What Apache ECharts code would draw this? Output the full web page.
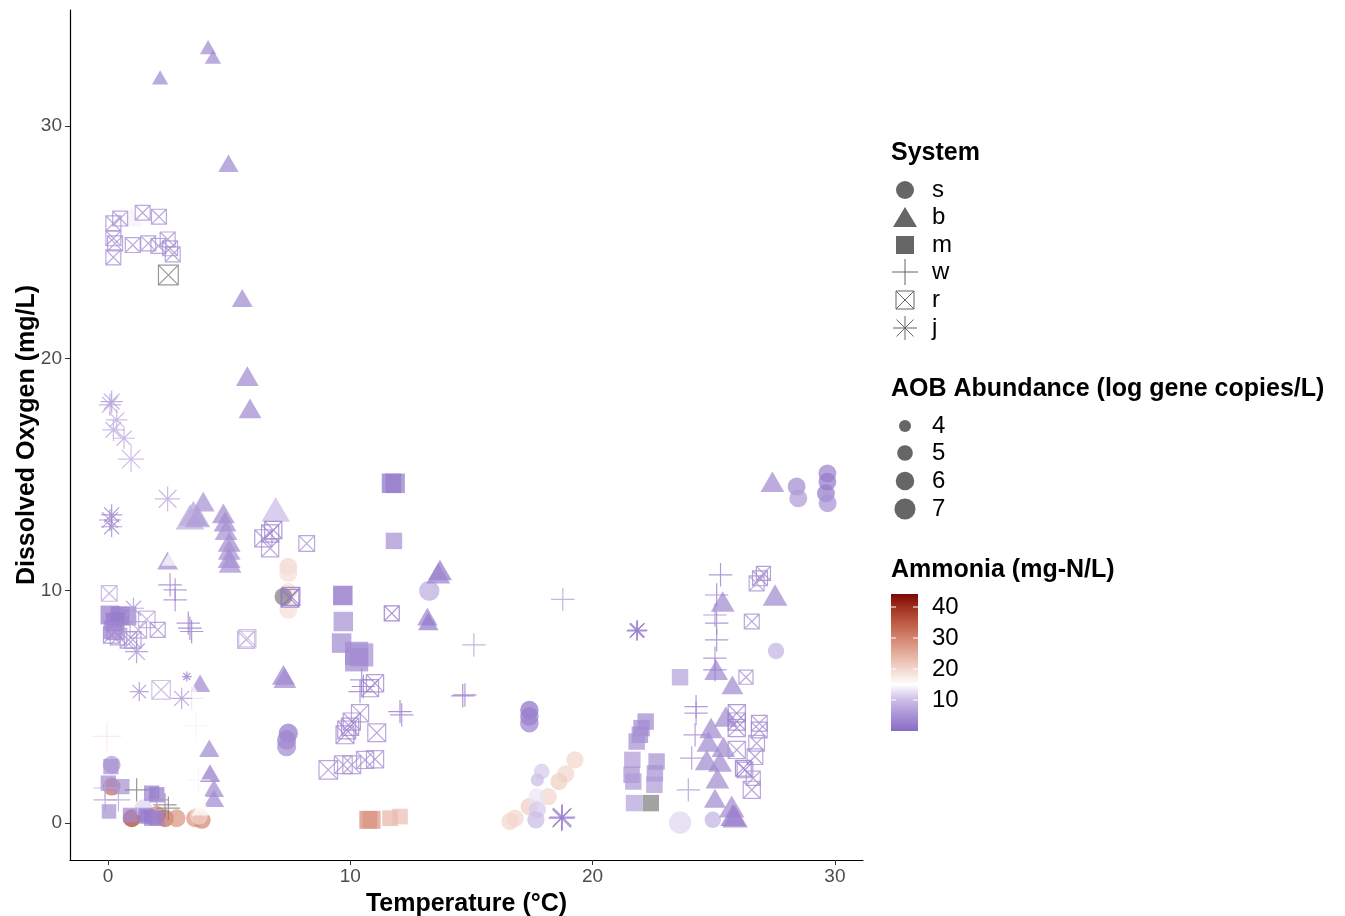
<!DOCTYPE html>
<html>
<head>
<meta charset="utf-8">
<script src="https://cdn.jsdelivr.net/npm/echarts@6/dist/echarts.min.js"></script>
<style>
  html, body { margin: 0; padding: 0; background: #fff; }
  #chart { width: 1345px; height: 916px; }
</style>
</head>
<body>
<div id="chart"></div>
<script>
// each point: [temperature °C, dissolved oxygen mg/L, AOB log gene copies/L, ammonia mg-N/L (null = NA)]
const systemS = [
  [0.15, 2.5, 5.2, 6], [0.15, 1.56, 5.2, 33], [0.98, 0.2, 5.2, 38], [1.46, 0.63, 5.2, 12],
  [2.01, 0.34, 5.2, 30], [2.35, 0.2, 5.2, 33], [2.83, 0.2, 5.2, 28], [3.59, 0.2, 5.2, 28],
  [3.87, 0.13, 5.2, 30], [3.75, 0.3, 5.2, 20],
  [7.44, 11.03, 5.2, 20], [7.44, 10.75, 5.2, 19], [7.44, 9.94, 5.2, 19], [7.44, 9.17, 5.2, 19],
  [7.24, 9.74, 5.2, null], [7.44, 3.86, 5.6, 2], [7.37, 3.57, 5.6, 3], [7.37, 3.28, 5.6, 4],
  [13.26, 9.99, 6, 8], [17.39, 4.86, 5.4, 1], [17.39, 4.58, 5.4, 2], [17.39, 4.29, 5.4, 3],
  [19.27, 2.71, 5, 20], [18.89, 2.11, 5, 20], [18.61, 1.78, 5, 21], [18.17, 1.13, 5, 20],
  [17.38, 0.7, 5, 21], [16.8, 0.2, 5, 20], [16.59, 0.06, 5, 20],
  [17.9, 2.21, 4.6, 11], [17.72, 1.85, 4, 10], [17.69, 1.13, 4.8, 13], [17.72, 0.56, 5, 11],
  [17.66, 0.13, 5, 10],
  [28.42, 14.48, 5.2, 4], [28.49, 13.97, 5.2, 6], [29.69, 15.05, 5.2, 3], [29.69, 14.69, 5.2, 2],
  [29.63, 14.19, 5.2, 2], [29.7, 13.76, 5.2, 5], [27.57, 7.4, 4.8, 9],
  [23.61, 0.01, 6.7, 12], [24.96, 0.13, 4.8, 9]
];
const systemB = [
  [4.13, 33.4, 3.8, 4], [4.33, 32.99, 3.8, 4], [2.15, 32.1, 3.8, 4], [4.97, 28.4, 4.5, 4],
  [5.54, 22.6, 4.6, 4], [5.75, 19.24, 5, 4], [5.86, 17.85, 5, 4], [0.98, 26.1, 5, 14],
  [3.93, 13.83, 5, 5], [3.52, 13.33, 6.4, 7], [3.38, 13.17, 6.4, 8], [3.7, 13.2, 5.5, 6],
  [4.76, 13.33, 5, 4], [4.83, 12.97, 5, 4], [4.87, 12.6, 5, 5], [5.0, 12.1, 5, 4],
  [5.0, 11.75, 5, 5], [5.0, 11.4, 5, 4], [5.04, 11.19, 5, 5], [6.92, 13.5, 6.4, 10],
  [2.46, 11.3, 4.6, 4], [2.63, 11.46, 4.6, 15], [3.8, 6.01, 4.5, 4], [3.31, 5.94, 4.5, 15],
  [3.31, 3.72, 5, 15], [4.18, 3.21, 4.5, 4], [4.21, 2.14, 4.5, 2], [4.37, 1.49, 4.5, 4],
  [4.37, 1.06, 4.5, 4], [3.66, 1.42, 4.5, 15], [3.87, 0.7, 4.5, 15],
  [7.24, 6.37, 5, 3], [7.3, 6.23, 5, 4], [13.7, 10.89, 5.2, 2], [13.63, 10.75, 5.2, 3],
  [13.18, 8.88, 4.5, 3], [13.22, 8.67, 4.5, 2],
  [27.42, 14.69, 5.2, 4], [27.53, 9.81, 5.4, 4], [25.37, 9.53, 5.2, 4], [25.1, 6.59, 5.2, 4],
  [25.77, 5.94, 4.8, 4], [25.5, 4.58, 5.2, 4], [24.89, 4.08, 5.2, 4], [24.78, 3.5, 5.2, 4],
  [25.4, 3.28, 5.2, 4], [24.71, 2.71, 5.2, 4], [25.26, 2.64, 5.2, 4], [25.15, 1.92, 5.2, 4],
  [25.05, 1.06, 4.8, 4], [25.74, 0.7, 5.6, 4], [25.8, 0.34, 5.6, 2], [25.88, 0.27, 5.6, 3]
];
const systemM = [
  [0.08, 8.95, 5.5, 2], [0.5, 8.91, 5.5, 2], [0.78, 8.91, 5.5, 3], [0.29, 8.65, 5.5, 2],
  [0.21, 8.31, 5.5, 3], [0.12, 2.42, 4.5, 5], [0.01, 1.71, 4.5, 4], [0.57, 1.56, 4.5, 5],
  [0.04, 0.49, 4.3, 5], [0.91, 0.34, 4.3, 4], [1.53, 0.34, 4.3, 3], [1.6, 0.27, 4.3, 2],
  [1.8, 1.28, 4.5, 3], [2.01, 1.21, 4.5, 2], [1.8, 0.2, 4.5, 2], [2.01, 0.2, 4.5, 3],
  [11.7, 14.62, 5.7, 1], [11.85, 14.62, 5.7, 2], [11.8, 12.14, 4.8, 5], [9.69, 9.79, 5.7, 0],
  [9.71, 8.67, 5.7, 5], [9.64, 7.74, 5.7, 4], [10.26, 7.3, 7, 4], [10.47, 7.23, 7, 5],
  [10.26, 7.02, 7, 4],
  [10.74, 0.13, 5.2, 29], [10.88, 0.13, 5.2, 28], [11.64, 0.2, 4.6, 24], [12.05, 0.27, 4.6, 23],
  [23.61, 6.27, 4.8, 7], [22.19, 4.36, 4.8, 4], [22.02, 4.08, 4.8, 4], [21.95, 3.79, 4.8, 4],
  [21.82, 3.5, 4.8, 5], [21.64, 2.71, 4.8, 6], [21.61, 2.07, 4.8, 5], [21.68, 1.78, 4.8, 6],
  [22.64, 2.64, 4.8, 5], [22.57, 2.13, 4.8, 5], [22.55, 1.64, 4.8, 6], [21.71, 0.85, 4.8, 7],
  [22.4, 0.85, 4.8, null]
];
const systemW = [
  [2.56, 10.25, 4.8, 3], [2.77, 10.03, 4.8, 4], [2.77, 9.6, 4.8, 4], [3.31, 8.6, 4.8, 3],
  [3.38, 8.38, 4.8, 2], [3.45, 8.24, 4.8, 3], [3.63, 4.19, 5.2, 14], [-0.05, 3.72, 5.9, 18],
  [3.45, 5.36, 4.8, 13], [1.18, 1.42, 4.8, null], [2.35, 0.77, 4.8, null], [2.49, 0.63, 4.8, null],
  [-0.12, 0.99, 4.8, 6], [0.43, 0.99, 4.8, 7], [2.01, 0.99, 4.8, 5], [-0.12, 1.5, 4.8, 8],
  [3.73, 1.85, 4.8, 14],
  [10.54, 5.87, 4.8, 2], [10.4, 5.65, 4.8, 3], [10.47, 6.16, 4.8, 3], [12.05, 4.79, 4.8, 2],
  [12.12, 4.65, 4.8, 3], [14.64, 5.47, 4.8, 2], [14.73, 5.51, 4.8, 3], [15.1, 7.66, 4.8, 7],
  [18.77, 9.62, 4.8, 7],
  [25.28, 10.68, 4.8, 3], [25.12, 9.81, 4.8, 3], [25.05, 8.95, 4.8, 4], [25.12, 8.6, 4.8, 3],
  [25.12, 7.88, 4.8, 3], [25.05, 7.09, 4.8, 4], [25.05, 6.59, 4.8, 3], [24.27, 5.0, 4.8, 3],
  [24.27, 4.72, 4.8, 4], [24.23, 3.79, 4.8, 4], [24.09, 2.79, 4.8, 5], [23.95, 1.42, 4.8, 6]
];
const systemR = [
  [0.22, 25.81, 4.4, 5], [0.5, 26.02, 4.4, 5], [1.43, 26.27, 4.4, 5], [2.1, 26.1, 4.4, 5],
  [0.22, 25.17, 4.4, 5], [0.29, 24.95, 4.4, 5], [1.02, 24.88, 4.4, 5], [1.66, 24.95, 4.4, 5],
  [2.08, 24.84, 4.4, 5], [2.46, 25.12, 4.4, 5], [2.56, 24.74, 4.4, 5], [2.67, 24.48, 4.4, 5],
  [0.22, 24.35, 4.4, 5], [2.49, 23.59, 5.8, null],
  [0.05, 9.88, 4.6, 8], [0.29, 8.24, 4.8, 4], [0.15, 8.09, 4.8, 4], [0.43, 8.02, 4.8, 5],
  [0.84, 7.88, 4.8, 5], [1.25, 8.31, 4.8, 6], [1.6, 8.76, 4.8, 7], [2.05, 8.31, 4.4, 5],
  [1.02, 7.88, 4.8, 5], [5.7, 7.88, 5, 8], [5.75, 7.95, 5, 9], [2.19, 5.73, 5.4, 9],
  [7.51, 9.67, 5.2, 1], [7.55, 9.75, 5.2, 2], [6.69, 12.46, 5, 3], [6.41, 12.25, 5, 4],
  [6.82, 12.61, 5, 3], [6.69, 11.82, 5, 5], [8.2, 12.03, 4.6, 5], [11.71, 9.02, 4.4, 1],
  [11.02, 6.01, 5, 4], [10.81, 5.8, 5, 4], [10.4, 4.72, 5, 5], [10.06, 4.36, 5, 4],
  [9.85, 4.0, 5.2, 4], [9.78, 3.79, 5.2, 4], [9.99, 4.14, 5, 4], [11.09, 3.88, 5.2, 5],
  [9.09, 2.28, 5.4, 5], [9.71, 2.5, 5.2, 5], [10.06, 2.5, 5.2, 5], [10.61, 2.71, 5, 5],
  [11.02, 2.74, 5, 5],
  [27.05, 10.74, 4.2, 4], [26.91, 10.53, 4.4, 4], [26.77, 10.31, 4.4, 5], [26.57, 8.67, 4.4, 5],
  [26.33, 6.27, 4.2, 5], [25.95, 4.72, 5, 3], [25.95, 4.36, 5, 3], [25.95, 4.08, 5, 4],
  [26.88, 4.29, 4.6, 4], [26.88, 4.0, 4.6, 4], [25.95, 3.14, 5, 5], [26.77, 3.43, 4.6, 5],
  [26.7, 2.85, 4.6, 5], [26.22, 2.35, 4.6, 2], [26.29, 2.28, 4.6, 3], [26.63, 1.92, 4.2, 5],
  [26.57, 1.42, 5, 5]
];
const systemJ = [
  [0.15, 18.14, 4.8, 6], [0.08, 18.0, 4.8, 7], [0.36, 17.35, 4.6, 8], [0.22, 16.92, 4.8, 8],
  [0.66, 16.56, 4.6, 8], [0.95, 15.66, 5.6, 9], [2.46, 13.95, 5.4, 8], [0.15, 13.26, 4.6, 3],
  [0.08, 13.04, 4.8, 4], [0.15, 12.75, 4.6, 4], [1.05, 9.24, 4.6, 6], [1.18, 7.37, 5, 5],
  [1.29, 5.65, 4.2, 5], [3.04, 5.36, 4.6, 6], [3.25, 6.3, 3, 3],
  [21.82, 8.27, 4.4, 1], [21.85, 8.3, 4.4, 2], [18.72, 0.2, 5.6, 1], [18.75, 0.25, 5.6, 2]
];

const systemNames = ['s', 'b', 'm', 'w', 'r', 'j'];
const systemData = [systemS, systemB, systemM, systemW, systemR, systemJ];
const aobLegend = [4, 5, 6, 7];
const ammoniaTicks = [10, 20, 30, 40];
const xTicks = [0, 10, 20, 30];
const yTicks = [0, 10, 20, 30];

const FONT = '"Liberation Sans", Arial, sans-serif';
const NA_COLOR = '#7f7f7f';
const NH3_MAX = 44.2;

// purple - white - dark red ramp, white near 15
const rampStops = [
  [0, '#8a6bc6'], [5, '#a892d3'], [10, '#cbbde6'], [15, '#ffffff'], [20, '#f2d6cd'],
  [25, '#e4ae9e'], [30, '#d3856f'], [35, '#bc5a45'], [40, '#9f2f20'], [NH3_MAX, '#7d0606']
];

function hexRgb(h) {
  return [parseInt(h.slice(1, 3), 16), parseInt(h.slice(3, 5), 16), parseInt(h.slice(5, 7), 16)];
}
function nh3Color(v) {
  if (v == null) return NA_COLOR;
  if (v <= rampStops[0][0]) return rampStops[0][1];
  for (let i = 1; i < rampStops.length; i++) {
    if (v <= rampStops[i][0]) {
      const [v0, c0] = rampStops[i - 1], [v1, c1] = rampStops[i];
      const t = (v - v0) / (v1 - v0);
      const a = hexRgb(c0), b = hexRgb(c1);
      const c = a.map((x, k) => Math.round(x + (b[k] - x) * t));
      return `rgb(${c[0]},${c[1]},${c[2]})`;
    }
  }
  return rampStops[rampStops.length - 1][1];
}

// diameter from AOB abundance (area scale)
const baseSize = (aob) => Math.sqrt(Math.max(20, 144 + 100 * (aob - 4)));
const PLOT_SCALE = 1.1;

const PLUS = 'path://M0,5L10,5M5,0L5,10';
const BOXX = 'path://M0,0L10,0L10,10L0,10ZM0,0L10,10M10,0L0,10';
const STAR = 'path://M0,5L10,5M5,0L5,10M1.46,1.46L8.54,8.54M8.54,1.46L1.46,8.54';

// shape, [w, h] factors, outline only?
const shapeDef = {
  s: { symbol: 'circle',   f: [1, 1],       open: false },
  b: { symbol: 'triangle', f: [1.33, 1.15], open: false },
  m: { symbol: 'rect',     f: [1, 1],       open: false },
  w: { symbol: PLUS,       f: [1.42, 1.42], open: true },
  r: { symbol: BOXX,       f: [1.0, 1.0],   open: true },
  j: { symbol: STAR,       f: [1.35, 1.35], open: true }
};

const series = systemNames.map((name, i) => {
  const def = shapeDef[name];
  return {
    type: 'scatter',
    name,
    symbol: def.symbol,
    symbolSize: (val) => {
      const d = baseSize(val[2]) * PLOT_SCALE;
      return [d * def.f[0], d * def.f[1]];
    },
    data: systemData[i].map(p => {
      const c = nh3Color(p[3]);
      return {
        value: p,
        itemStyle: def.open
          ? { color: 'rgba(0,0,0,0)', borderColor: c, borderWidth: 1.2, opacity: 0.8 }
          : { color: c, borderWidth: 0, opacity: 0.72 }
      };
    }),
    emphasis: { disabled: true },
    silent: true
  };
});

// legends drawn as graphics
const graphic = [];
const LEG_X = 905, LABEL_X = 932, GREY = '#666666';
const TITLE_SIZE = 25, LABEL_SIZE = 24;
const txt = (text, x, y, size, bold) => ({
  type: 'text', silent: true,
  style: {
    text, x, y, fill: '#000',
    font: `${bold ? 'bold ' : ''}${size}px ${FONT}`,
    textAlign: 'left', textVerticalAlign: 'middle', align: 'left', verticalAlign: 'middle'
  }
});
const seg = (x1, y1, x2, y2, stroke, w) => ({
  type: 'line', silent: true,
  shape: { x1, y1, x2, y2 }, style: { stroke, lineWidth: w || 1 }
});

graphic.push(txt('System', 891, 153, TITLE_SIZE, true));
const sysY = [190, 217, 245, 272, 300, 328];
systemNames.forEach((name, i) => {
  const y = sysY[i];
  graphic.push(txt(name, LABEL_X, y, LABEL_SIZE, false));
  if (name === 's') {
    graphic.push({ type: 'circle', silent: true, shape: { cx: LEG_X, cy: y, r: 9 }, style: { fill: GREY } });
  } else if (name === 'b') {
    graphic.push({ type: 'polygon', silent: true,
      shape: { points: [[LEG_X - 12, y + 10], [LEG_X + 12, y + 10], [LEG_X, y - 10]] }, style: { fill: GREY } });
  } else if (name === 'm') {
    graphic.push({ type: 'rect', silent: true, shape: { x: LEG_X - 9, y: y - 9, width: 18, height: 18 }, style: { fill: GREY } });
  } else if (name === 'w') {
    graphic.push(seg(LEG_X - 13, y, LEG_X + 13, y, GREY), seg(LEG_X, y - 13, LEG_X, y + 13, GREY));
  } else if (name === 'r') {
    graphic.push({ type: 'rect', silent: true, shape: { x: LEG_X - 9, y: y - 9, width: 18, height: 18 },
      style: { fill: 'none', stroke: GREY, lineWidth: 1 } });
    graphic.push(seg(LEG_X - 9, y - 9, LEG_X + 9, y + 9, GREY), seg(LEG_X + 9, y - 9, LEG_X - 9, y + 9, GREY));
  } else {
    const r = 12, d = r * 0.707;
    graphic.push(seg(LEG_X - r, y, LEG_X + r, y, GREY), seg(LEG_X, y - r, LEG_X, y + r, GREY),
      seg(LEG_X - d, y - d, LEG_X + d, y + d, GREY), seg(LEG_X + d, y - d, LEG_X - d, y + d, GREY));
  }
});

graphic.push(txt('AOB Abundance (log gene copies/L)', 891, 389, TITLE_SIZE, true));
const aobY = [426, 453, 481, 509];
aobLegend.forEach((a, i) => {
  graphic.push({ type: 'circle', silent: true,
    shape: { cx: LEG_X, cy: aobY[i], r: baseSize(a) / 2 }, style: { fill: GREY } });
  graphic.push(txt(String(a), LABEL_X, aobY[i], LABEL_SIZE, false));
});

graphic.push(txt('Ammonia (mg-N/L)', 891, 570, TITLE_SIZE, true));
const CB_X = 891, CB_W = 27, CB_BOTTOM = 731, CB_H = 137;
graphic.push({
  type: 'rect', silent: true,
  shape: { x: CB_X, y: CB_BOTTOM - CB_H, width: CB_W, height: CB_H },
  style: {
    fill: {
      type: 'linear', x: 0, y: 1, x2: 0, y2: 0,
      colorStops: rampStops.map(s => ({ offset: s[0] / NH3_MAX, color: s[1] }))
    }
  }
});
ammoniaTicks.forEach(v => {
  const y = CB_BOTTOM - v / NH3_MAX * CB_H;
  graphic.push(seg(CB_X, y, CB_X + 5, y, '#fff', 1), seg(CB_X + CB_W - 5, y, CB_X + CB_W, y, '#fff', 1));
  graphic.push(txt(String(v), LABEL_X, y, LABEL_SIZE, false));
});

const axisCommon = {
  type: 'value',
  nameLocation: 'middle',
  nameMoveOverlap: false,
  nameTextStyle: { color: '#000', fontSize: 25, fontWeight: 'bold', fontFamily: FONT },
  axisLine: { show: true, onZero: false, lineStyle: { color: '#000', width: 1.2 } },
  axisTick: { show: true, length: 5, lineStyle: { color: '#333', width: 1 } },
  axisLabel: { color: '#4d4d4d', fontSize: 19, fontFamily: FONT },
  splitLine: { show: false }
};

const chart = echarts.init(document.getElementById('chart'), null, { renderer: 'canvas' });
chart.setOption({
  animation: false,
  backgroundColor: '#fff',
  grid: { left: 70, top: 10, width: 793, height: 850, containLabel: false, outerBoundsMode: 'none' },
  xAxis: Object.assign({}, axisCommon, {
    name: 'Temperature (°C)', nameGap: 32, min: -1.57, max: 31.16,
    axisTick: Object.assign({}, axisCommon.axisTick, { customValues: xTicks }),
    axisLabel: Object.assign({}, axisCommon.axisLabel, { customValues: xTicks, margin: 7 })
  }),
  yAxis: Object.assign({}, axisCommon, {
    name: 'Dissolved Oxygen (mg/L)', nameGap: 30, min: -1.6, max: 35.0,
    axisTick: Object.assign({}, axisCommon.axisTick, { customValues: yTicks }),
    axisLabel: Object.assign({}, axisCommon.axisLabel, { customValues: yTicks, margin: 8 })
  }),
  series,
  graphic
});
</script>
</body>
</html>
